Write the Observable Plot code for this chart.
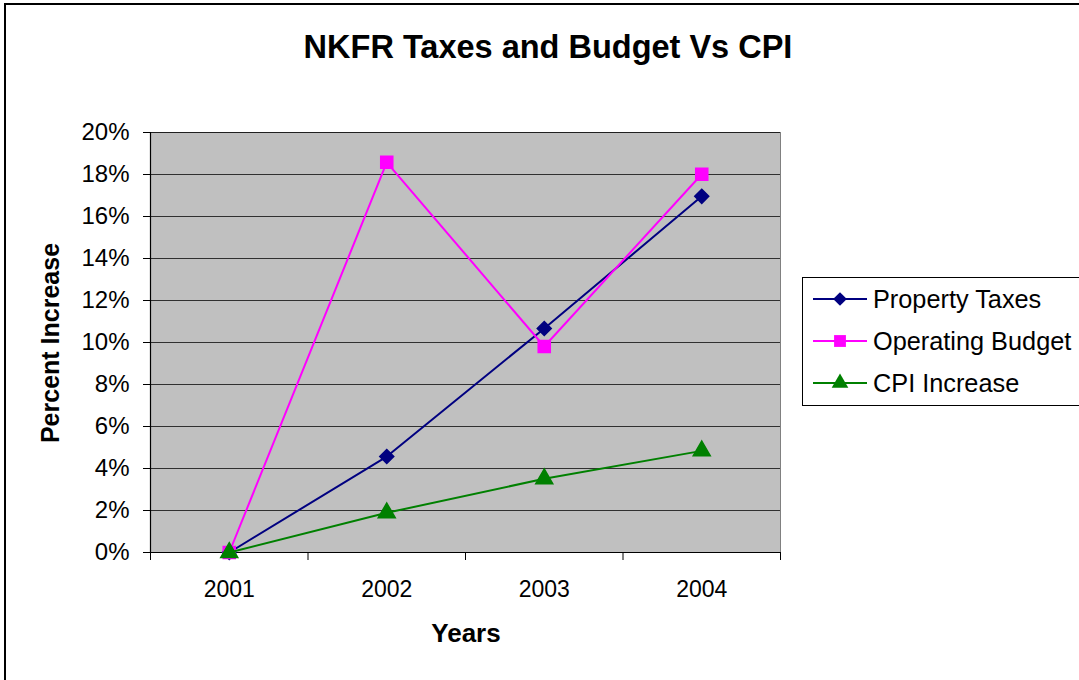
<!DOCTYPE html>
<html>
<head>
<meta charset="utf-8">
<script src="https://cdn.jsdelivr.net/npm/d3@7"></script>
<script src="https://cdn.jsdelivr.net/npm/@observablehq/plot@0.6"></script>
<style>
  html, body { margin: 0; padding: 0; background: #fff; }
  body { width: 1079px; height: 680px; overflow: hidden; position: relative; font-family: "Liberation Sans", Arial, sans-serif; }
  #frame { position: absolute; left: 4px; top: 3px; width: 1100px; height: 700px; border-left: 2px solid #000; border-top: 2px solid #000; }
  #chart { position: absolute; left: 0; top: 0; }
  .title { position: absolute; left: 0; width: 1096px; top: 28px; line-height: 38px; text-align: center; font-size: 32.5px; font-weight: bold; }
  .xlabel { position: absolute; left: 0; width: 932px; top: 618px; line-height: 30px; text-align: center; font-size: 26px; font-weight: bold; }
  .ylabel { position: absolute; left: 50px; top: 343px; transform: translate(-50%, -50%) rotate(-90deg); font-size: 25px; font-weight: bold; white-space: nowrap; }
  #legend { position: absolute; left: 802px; top: 277px; width: 290px; height: 127px; border: 1px solid #000; background: #fff; }
  .row { position: absolute; left: 0; height: 30px; display: flex; align-items: center; }
  .row svg { margin-left: 9px; }
  .row span { margin-left: 5px; font-size: 25.3px; white-space: nowrap; }
</style>
</head>
<body>
<div id="frame"></div>
<div id="chart"></div>
<div class="title">NKFR Taxes and Budget Vs CPI</div>
<div class="xlabel">Years</div>
<div class="ylabel">Percent Increase</div>
<div id="legend"></div>
<script>
const years = [2001, 2002, 2003, 2004];
const seriesNames = ["Property Taxes", "Operating Budget", "CPI Increase"];
const propertyTaxes = [0, 0.0457, 0.1067, 0.1696];
const operatingBudget = [0, 0.1858, 0.0981, 0.1801];
const cpiIncrease = [0, 0.0189, 0.0351, 0.0484];
const seriesColors = ["#000080", "#FF00FF", "#008000"];
const seriesSymbols = ["diamond2", "square", "triangle"];
const yTicks = [0, 0.02, 0.04, 0.06, 0.08, 0.10, 0.12, 0.14, 0.16, 0.18, 0.20];
const xBoundaries = [2000.5, 2001.5, 2002.5, 2003.5, 2004.5];

const valuesBySeries = [propertyTaxes, operatingBudget, cpiIncrease];
const data = [];
seriesNames.forEach((s, i) => years.forEach((y, j) => data.push({series: s, year: y, value: valuesBySeries[i][j]})));

const colorOf = Object.fromEntries(seriesNames.map((s, i) => [s, seriesColors[i]]));
const symOf = Object.fromEntries(seriesNames.map((s, i) => [s, seriesSymbols[i]]));

const marks = [
  Plot.frame({fill: "#C0C0C0", stroke: "#808080"}),
  Plot.gridY(yTicks, {stroke: "#000", strokeOpacity: 0.75, strokeWidth: 1}),
  Plot.axisY({ticks: yTicks, tickFormat: d => Math.round(d * 100) + "%", tickSize: 7, tickPadding: 14, fontSize: 24, label: null, stroke: "#000"}),
  Plot.axisX({ticks: years, tickFormat: d => String(d), tickSize: 0, tickPadding: 28, fontSize: 23, label: null}),
  Plot.axisX({ticks: xBoundaries, tickFormat: () => "", tickSize: 8, label: null, stroke: "#000"}),
  Plot.ruleY([0], {stroke: "#000", strokeWidth: 1.2}),
  Plot.ruleX([2000.5], {stroke: "#000", strokeWidth: 1.2})
];
seriesNames.forEach((s, i) => {
  const d = data.filter(r => r.series === s);
  marks.push(Plot.line(d, {x: "year", y: "value", stroke: colorOf[s], strokeWidth: 2}));
  marks.push(Plot.dot(d, {x: "year", y: "value", fill: colorOf[s], stroke: colorOf[s], symbol: () => symOf[s], r: i === 1 ? 6.8 : 6.3}));
});

const chart = Plot.plot({
  width: 1079,
  height: 680,
  marginLeft: 150,
  marginRight: 299,
  marginTop: 132,
  marginBottom: 128,
  style: {fontFamily: "'Liberation Sans', Arial, sans-serif", color: "#000", background: "transparent"},
  x: {type: "linear", domain: [2000.5, 2004.5]},
  y: {domain: [0, 0.2]},
  symbol: {type: "identity"},
  marks
});
document.getElementById("chart").appendChild(chart);

// legend
const legend = document.getElementById("legend");
seriesNames.forEach((s, i) => {
  const row = document.createElement("div");
  row.className = "row";
  row.style.top = (6 + i * 42) + "px";
  const sym = d3.symbol().type(i === 0 ? d3.symbolDiamond2 : i === 1 ? d3.symbolSquare : d3.symbolTriangle).size(i === 1 ? 140 : 120)();
  row.innerHTML = `<svg width="56" height="24"><line x1="1" x2="55" y1="12" y2="12" stroke="${seriesColors[i]}" stroke-width="2"/><path d="${sym}" transform="translate(28,12)" fill="${seriesColors[i]}"/></svg><span>${s}</span>`;
  legend.appendChild(row);
});
</script>
</body>
</html>
